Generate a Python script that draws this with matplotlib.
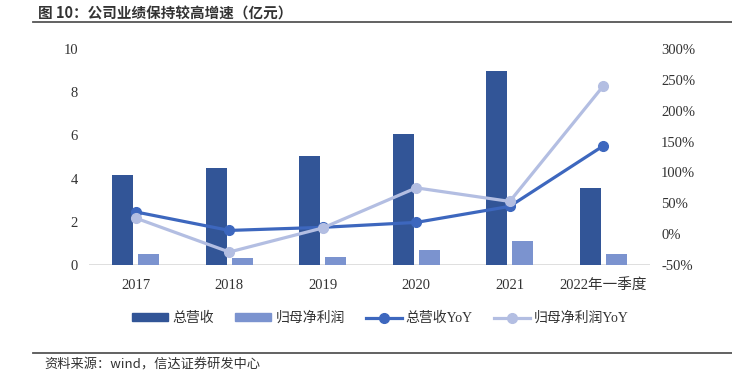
import matplotlib.pyplot as plt
from matplotlib.lines import Line2D
from matplotlib.patches import Patch
import numpy as np

categories = ["2017", "2018", "2019", "2020", "2021", "2022年一季度"]
revenue = [4.17, 4.49, 5.05, 6.06, 8.98, 3.57]
net_profit = [0.50, 0.33, 0.37, 0.70, 1.10, 0.50]
revenue_yoy = [36, 6, 11, 19, 45, 143]
profit_yoy = [26, -29, 10, 75, 53, 240]

plt.rcParams['font.family'] = ['Liberation Serif', 'Noto Sans CJK SC']

c_rev = "#325597"
c_np = "#7b93cf"
c_rev_yoy = "#3d67be"
c_np_yoy = "#b3bee2"

fig = plt.figure(figsize=(7.32, 3.79), dpi=100)
ax = fig.add_axes([0.1216, 0.3008, 0.7664, 0.570])
ax2 = ax.twinx()

x = np.arange(len(categories))
w = 0.225
ax.bar(x - w / 2 - 0.028, revenue, w, color=c_rev, zorder=2)
ax.bar(x + w / 2 + 0.028, net_profit, w, color=c_np, zorder=2)
ax.set_xlim(-0.5, len(categories) - 0.5)
ax.set_ylim(0, 10)
ax.set_yticks(range(0, 11, 2))
ax.set_xticks(x)
ax.set_xticklabels(categories)

ax2.plot(x, revenue_yoy, color=c_rev_yoy, lw=2.3, marker="o", ms=7)
ax2.plot(x, profit_yoy, color=c_np_yoy, lw=2.3, marker="o", ms=7)
ax2.set_ylim(-50, 300)
ax2.set_yticks(range(-50, 301, 50))
ax2.set_yticklabels([f"{v}%" for v in range(-50, 301, 50)])

for a in (ax, ax2):
    for s in ("top", "left", "right", "bottom"):
        a.spines[s].set_visible(False)
    a.tick_params(length=0, labelsize=10.5, colors="#333333")
ax.axhline(0, color="#d9d9d9", lw=1.2, zorder=1)
ax.tick_params(axis="y", pad=8)
ax.tick_params(axis="x", pad=10)
ax2.tick_params(axis="y", pad=8)

handles = [
    Patch(color=c_rev),
    Patch(color=c_np),
    Line2D([], [], color=c_rev_yoy, lw=2.3, marker="o", ms=7),
    Line2D([], [], color=c_np_yoy, lw=2.3, marker="o", ms=7),
]
labels = ["总营收", "归母净利润", "总营收YoY", "归母净利润YoY"]
fig.legend(handles, labels, loc="center", bbox_to_anchor=(0.52, 0.16), ncol=4,
           frameon=False, fontsize=10, handlelength=2.6, handleheight=0.5,
           columnspacing=1.5, handletextpad=0.3, labelcolor="#333333")

fig.text(0.052, 0.963, "图 10：公司业绩保持较高增速（亿元）", fontsize=10.5, fontweight="bold",
         color="#333333", va="center", family=["Noto Sans CJK SC"])
fig.add_artist(Line2D([0.045, 1.0], [0.942, 0.942], color="#555555", lw=1.3))
fig.add_artist(Line2D([0.045, 1.0], [0.069, 0.069], color="#555555", lw=1.3))
fig.text(0.06, 0.037, "资料来源：wind，信达证券研发中心", fontsize=9.5, style="italic",
         color="#333333", va="center", family=["Noto Sans CJK SC"])

fig.savefig("out.png", dpi=100)
